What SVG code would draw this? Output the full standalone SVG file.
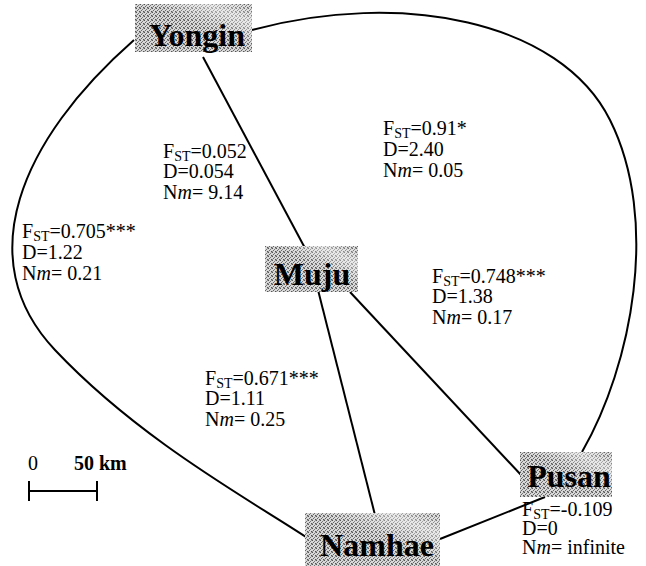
<svg xmlns="http://www.w3.org/2000/svg" width="646" height="566" viewBox="0 0 646 566">
<defs>
<pattern id="dith" width="4" height="4" patternUnits="userSpaceOnUse">
<rect width="4" height="4" fill="#d8d8d8"/>
<rect x="0" y="0" width="1" height="1" fill="#555"/>
<rect x="2" y="1" width="1" height="1" fill="#777"/>
<rect x="1" y="2" width="1" height="1" fill="#666"/>
<rect x="3" y="3" width="1" height="1" fill="#555"/>
<rect x="3" y="0" width="1" height="1" fill="#999"/>
<rect x="0" y="3" width="1" height="1" fill="#999"/>
</pattern>
<linearGradient id="sheen" x1="0" y1="1" x2="1" y2="0">
<stop offset="0.55" stop-color="#fff" stop-opacity="0"/>
<stop offset="0.8" stop-color="#fff" stop-opacity="0.45"/>
<stop offset="1" stop-color="#fff" stop-opacity="0"/>
</linearGradient>
</defs>
<style>
.box{fill:url(#dith);}
.sh{fill:url(#sheen);}
.name{font-family:"Liberation Serif","Times New Roman",serif;font-weight:bold;font-size:32px;fill:#000;text-anchor:middle;}
.lab{font-family:"Liberation Serif","Times New Roman",serif;font-size:20px;fill:#000;}
.sub{font-size:14px;}
.edge{fill:none;stroke:#000;stroke-width:2;}
</style>
<g id="connectors">
<path class="edge" d="M134,40 C20,140 -30,260 55,350 S250,500 306,537"/>
<path class="edge" d="M252,30 C400,-10 560,20 610,120 S632,365 582,452"/>
<line class="edge" x1="203" y1="57" x2="306" y2="250"/>
<line class="edge" x1="318" y1="290" x2="375" y2="515"/>
<line class="edge" x1="350" y1="292" x2="522" y2="476"/>
<line class="edge" x1="545" y1="497" x2="440" y2="539"/>
</g>
<g id="Yongin">
<rect class="box" x="135" y="4" width="117" height="48"/>
<rect class="sh" x="135" y="4" width="117" height="48"/>
<text class="name" x="197" y="46">Yongin</text>
</g>
<g id="Muju">
<rect class="box" x="265" y="246" width="93" height="46"/>
<rect class="sh" x="265" y="246" width="93" height="46"/>
<text class="name" x="312" y="285">Muju</text>
</g>
<g id="Pusan">
<rect class="box" x="520" y="452" width="92" height="45"/>
<rect class="sh" x="520" y="452" width="92" height="45"/>
<text class="name" x="569" y="487">Pusan</text>
</g>
<g id="Namhae">
<rect class="box" x="305" y="513" width="135" height="53"/>
<rect class="sh" x="305" y="513" width="135" height="53"/>
<text class="name" x="377" y="556">Namhae</text>
</g>
<g id="labels">
<text class="lab" x="163" y="158">F<tspan class="sub" dy="3">ST</tspan><tspan dy="-3">=0.052</tspan></text>
<text class="lab" x="163" y="178">D=0.054</text>
<text class="lab" x="163" y="199">N<tspan font-style="italic">m</tspan>= 9.14</text>
<text class="lab" x="383" y="135">F<tspan class="sub" dy="3">ST</tspan><tspan dy="-3">=0.91*</tspan></text>
<text class="lab" x="383" y="156">D=2.40</text>
<text class="lab" x="383" y="177">N<tspan font-style="italic">m</tspan>= 0.05</text>
<text class="lab" x="22" y="238">F<tspan class="sub" dy="3">ST</tspan><tspan dy="-3">=0.705***</tspan></text>
<text class="lab" x="22" y="259">D=1.22</text>
<text class="lab" x="22" y="280">N<tspan font-style="italic">m</tspan>= 0.21</text>
<text class="lab" x="432" y="283">F<tspan class="sub" dy="3">ST</tspan><tspan dy="-3">=0.748***</tspan></text>
<text class="lab" x="432" y="303">D=1.38</text>
<text class="lab" x="432" y="324">N<tspan font-style="italic">m</tspan>= 0.17</text>
<text class="lab" x="205" y="385">F<tspan class="sub" dy="3">ST</tspan><tspan dy="-3">=0.671***</tspan></text>
<text class="lab" x="205" y="405">D=1.11</text>
<text class="lab" x="205" y="426">N<tspan font-style="italic">m</tspan>= 0.25</text>
<text class="lab" x="522" y="516">F<tspan class="sub" dy="3">ST</tspan><tspan dy="-3">=-0.109</tspan></text>
<text class="lab" x="522" y="535">D=0</text>
<text class="lab" x="522" y="554">N<tspan font-style="italic">m</tspan>= infinite</text>
</g>
<g id="scale">
<text class="lab" x="28" y="470">0</text>
<text class="lab" x="74" y="470" font-weight="bold">50 km</text>
<line class="edge" x1="29" y1="491" x2="97" y2="491" stroke-width="1.5"/>
<line class="edge" x1="29" y1="481" x2="29" y2="501" stroke-width="1.5"/>
<line class="edge" x1="97" y1="481" x2="97" y2="501" stroke-width="1.5"/>
</g>
</svg>
